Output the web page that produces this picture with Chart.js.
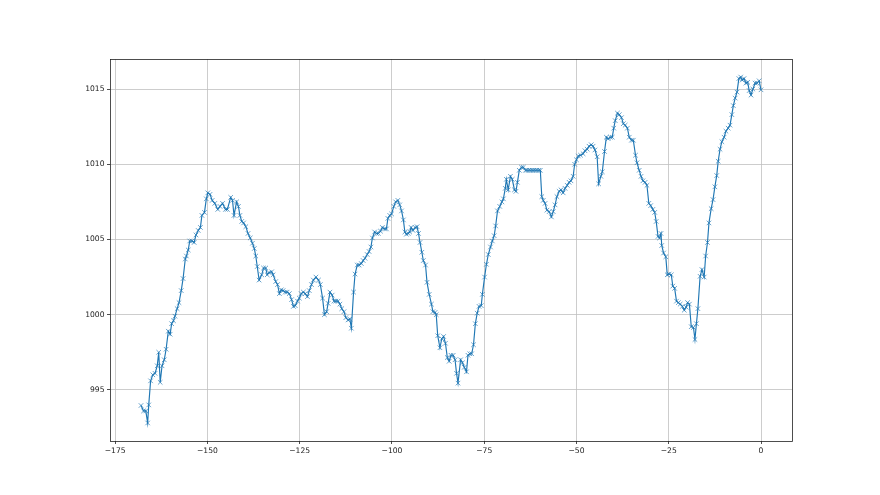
<!DOCTYPE html>
<html>
<head>
<meta charset="utf-8">
<script src="https://cdn.jsdelivr.net/npm/chart.js@4/dist/chart.umd.min.js"></script>
<style>
  html, body { margin: 0; padding: 0; background: #fff; }
  canvas { display: block; }
</style>
</head>
<body>
<canvas id="grafico" width="880" height="495"></canvas>
<script>
const hours = [
  -168, -167.3, -166.7, -166.2, -165.9, -165.4, -164.8, -164.2, -163.6, -163.2,
  -162.8, -162.3, -161.7, -161.2, -160.6, -160.1, -159.7, -159.2, -158.8, -158.2,
  -157.7, -157.1, -156.6, -156.0, -155.7, -155.2, -154.8, -154.2, -153.6, -153.1,
  -152.5, -151.9, -151.5, -150.8, -150.3, -149.9, -149.3, -148.7, -148.0, -147.2,
  -146.6, -145.9, -145.1, -144.6, -143.7, -143.2, -142.8, -142.1, -141.6, -141.2,
  -140.7, -140.2, -139.6, -139.0, -138.4, -137.8, -137.3, -136.9, -136.5, -136.0,
  -135.3, -134.8, -134.2, -133.8, -133.3, -132.6, -132.2, -131.5, -131.0, -130.5,
  -130.0, -129.5, -128.9, -128.4, -127.8, -127.2, -126.7, -126.2, -125.6, -125.1,
  -124.6, -124.0, -123.5, -122.9, -122.4, -121.8, -121.3, -120.6, -119.9, -119.4,
  -118.8, -118.3, -117.7, -117.3, -116.8, -116.2, -115.7, -115.2, -114.6, -114.1,
  -113.6, -113.0, -112.5, -111.9, -111.4, -111.0, -110.4, -110.0, -109.4, -108.9,
  -108.3, -107.8, -107.3, -106.7, -106.2, -105.7, -105.3, -104.7, -104.2, -103.7,
  -103.1, -102.6, -102.0, -101.5, -101.1, -100.6, -100.1, -99.5, -99.0, -98.4,
  -97.9, -97.4, -96.9, -96.5, -96.1, -95.6, -95.2, -94.8, -94.3, -93.7,
  -93.2, -92.8, -92.4, -91.9, -91.5, -90.9, -90.5, -89.9, -89.3, -88.9,
  -88.3, -88.0, -87.6, -87.0, -86.5, -86.0, -85.5, -85.0, -84.5, -84.0,
  -83.4, -82.9, -82.5, -82.1, -81.4, -80.9, -80.4, -79.8, -79.4, -78.9,
  -78.4, -77.9, -77.4, -76.9, -76.4, -75.8, -75.5, -74.9, -74.4, -73.9,
  -73.3, -72.8, -72.3, -71.9, -71.4, -70.8, -70.2, -69.8, -69.3, -69.0,
  -68.5, -67.9, -67.4, -66.8, -66.4, -66.0, -65.5, -64.9, -64.4, -63.8,
  -63.4, -62.9, -62.5, -62.0, -61.6, -61.1, -60.7, -60.2, -59.8, -59.4,
  -59.0, -58.5, -58.0, -57.4, -56.8, -56.3, -55.8, -55.3, -54.7, -54.2,
  -53.6, -53.1, -52.5, -52.0, -51.5, -50.9, -50.5, -50.0, -49.5, -48.9,
  -48.2, -47.7, -47.1, -46.6, -46.0, -45.5, -45.0, -44.4, -44.0, -43.4,
  -43.0, -42.4, -41.9, -41.4, -40.8, -40.3, -39.9, -39.5, -38.9, -38.4,
  -37.8, -37.3, -36.8, -36.2, -35.7, -35.1, -34.6, -34.0, -33.6, -33.0,
  -32.5, -32.0, -31.4, -30.9, -30.4, -29.9, -29.3, -28.8, -28.4, -27.9,
  -27.5, -27.1, -26.9, -26.4, -25.8, -25.4, -24.9, -24.3, -23.9, -23.4,
  -22.9, -22.4, -21.9, -21.3, -20.8, -20.3, -19.9, -19.4, -18.9, -18.3,
  -17.9, -17.5, -17.1, -16.5, -16.0, -15.4, -15.0, -14.5, -14.1, -13.5,
  -13.0, -12.5, -12.0, -11.6, -11.1, -10.6, -10.0, -9.5, -8.9, -8.4,
  -7.9, -7.5, -7.0, -6.5, -6.0, -5.5, -5.1, -4.6, -4.1, -3.6,
  -3.2, -2.7, -2.2, -1.6, -1.1, -0.5, 0
];

const pressure = [
  993.96, 993.6, 993.6, 992.8, 994.0, 995.6, 996.0, 996.1, 996.6, 997.5,
  995.5, 996.6, 997.0, 997.7, 998.9, 998.7, 999.4, 999.6, 999.9, 1000.4,
  1000.8, 1001.6, 1002.4, 1003.7, 1003.9, 1004.3, 1004.9, 1004.9, 1004.8, 1005.3,
  1005.6, 1005.8, 1006.6, 1006.8, 1007.7, 1008.1, 1008.0, 1007.6, 1007.4, 1007.0,
  1007.2, 1007.4, 1007.0, 1007.0, 1007.8, 1007.6, 1006.6, 1007.5, 1007.2, 1006.6,
  1006.2, 1006.1, 1005.85, 1005.4, 1005.1, 1004.75, 1004.4, 1003.9, 1003.2, 1002.3,
  1002.65, 1003.1, 1003.1, 1002.65, 1002.8, 1002.85, 1002.65, 1002.2, 1002.0, 1001.4,
  1001.65, 1001.6, 1001.5, 1001.5, 1001.4, 1001.0, 1000.55, 1000.6, 1000.9, 1001.1,
  1001.4, 1001.5, 1001.4, 1001.2, 1001.6, 1002.0, 1002.3, 1002.5, 1002.3, 1002.0,
  1001.1, 1000.0, 1000.2, 1000.75, 1001.5, 1001.3, 1000.9, 1000.9, 1000.9, 1000.7,
  1000.4, 1000.2, 999.8, 999.65, 999.7, 999.1, 1001.5, 1002.7, 1003.3, 1003.3,
  1003.4, 1003.6, 1003.75, 1004.0, 1004.2, 1004.5, 1005.1, 1005.5, 1005.4, 1005.4,
  1005.55, 1005.8, 1005.7, 1005.7, 1006.4, 1006.6, 1006.7, 1007.2, 1007.5, 1007.6,
  1007.3, 1006.9, 1006.3, 1005.5, 1005.35, 1005.4, 1005.5, 1005.8, 1005.6, 1005.8,
  1005.85, 1005.4, 1004.8, 1004.15, 1003.6, 1003.3, 1002.15, 1001.35, 1000.7, 1000.2,
  1000.15, 1000.0, 998.6, 997.8, 998.4, 998.55, 998.1, 997.15, 996.9, 997.3,
  997.3, 997.0, 996.1, 995.45, 997.0, 996.8, 996.5, 996.2, 997.3, 997.4,
  997.4, 998.0, 999.4, 1000.1, 1000.55, 1000.6, 1001.35, 1002.5, 1003.35, 1004.0,
  1004.5, 1004.9, 1005.25, 1005.9, 1006.9, 1007.2, 1007.5, 1007.7, 1008.4, 1009.0,
  1008.3, 1009.2, 1009.0, 1008.3, 1008.2, 1008.8, 1009.6, 1009.8, 1009.8, 1009.6,
  1009.6, 1009.6, 1009.6, 1009.6, 1009.6, 1009.6, 1009.6, 1009.6, 1009.6, 1007.85,
  1007.6, 1007.4, 1006.95, 1006.85, 1006.5, 1006.85, 1007.3, 1007.85, 1008.2, 1008.3,
  1008.1, 1008.4, 1008.6, 1008.8, 1008.9, 1009.2, 1010.0, 1010.3, 1010.55, 1010.6,
  1010.7, 1010.9, 1011.0, 1011.2, 1011.3, 1011.2, 1010.95, 1010.5, 1008.7, 1009.2,
  1009.5, 1010.85, 1011.8, 1011.7, 1011.8, 1011.8, 1012.4, 1012.9, 1013.4, 1013.3,
  1013.1, 1012.7, 1012.6, 1012.4, 1011.8, 1011.6, 1011.6, 1010.6, 1010.1, 1009.6,
  1009.2, 1008.9, 1008.8, 1008.6, 1007.4, 1007.25, 1007.0, 1006.8, 1006.2, 1005.2,
  1005.1, 1005.4, 1004.6, 1004.1, 1003.85, 1002.65, 1002.7, 1002.65, 1001.9, 1001.75,
  1000.9, 1000.8, 1000.7, 1000.55, 1000.3, 1000.5, 1000.8, 1000.7, 999.2, 999.15,
  998.35, 999.4, 1000.4, 1002.55, 1003.0, 1002.5, 1003.9, 1004.8, 1006.1, 1007.05,
  1007.65, 1008.5, 1009.25, 1010.2, 1011.0, 1011.5, 1011.8, 1012.2, 1012.4, 1012.6,
  1013.3, 1013.9, 1014.4, 1014.8, 1015.7, 1015.8, 1015.6, 1015.7, 1015.4, 1015.45,
  1014.9, 1014.6, 1015.0, 1015.4, 1015.4, 1015.55, 1014.95
];

const xTicks = [-175, -150, -125, -100, -75, -50, -25, 0];
const yTicks = [995, 1000, 1005, 1010, 1015];

const puntos = hours.map((h, i) => ({ x: h, y: pressure[i] }));

// marco de los cuatro lados, como los ejes de matplotlib
const marco = {
  id: 'marco',
  afterDraw(chart) {
    const a = chart.chartArea;
    const c = chart.ctx;
    c.save();
    c.strokeStyle = '#222';
    c.lineWidth = 0.8;
    c.strokeRect(Math.round(a.left) + 0.5, Math.round(a.top) + 0.5,
      Math.round(a.right - a.left), Math.round(a.bottom - a.top));
    c.restore();
  }
};

const fuente = { family: 'DejaVu Sans', size: 7.6 };
const menos = v => String(v).replace('-', '\u2212');

new Chart(document.getElementById('grafico'), {
  type: 'scatter',
  data: {
    datasets: [{
      data: puntos,
      showLine: true,
      borderColor: '#1f77b4',
      borderWidth: 1.15,
      pointStyle: 'crossRot',
      pointRadius: 3.2,
      pointBorderWidth: 0.8,
      pointBorderColor: 'rgba(31,119,180,0.85)',
      pointBackgroundColor: '#1f77b4'
    }]
  },
  options: {
    responsive: false,
    animation: false,
    layout: { padding: { left: 0, top: 59, right: 88, bottom: 0 } },
    plugins: { legend: { display: false }, tooltip: { enabled: false } },
    scales: {
      x: {
        type: 'linear',
        min: -176.4,
        max: 8.4,
        afterBuildTicks: s => { s.ticks = xTicks.map(v => ({ value: v })); },
        afterFit: s => { s.height = 54; },
        border: { display: false },
        grid: { color: '#c0c0c0', lineWidth: 0.8, tickLength: 3, tickColor: '#222' },
        ticks: { color: '#222', font: fuente, padding: 2.5, maxRotation: 0, callback: menos }
      },
      y: {
        min: 991.6,
        max: 1017.0,
        afterBuildTicks: s => { s.ticks = yTicks.map(v => ({ value: v })); },
        afterFit: s => { s.width = 110; },
        border: { display: false },
        grid: { color: '#c0c0c0', lineWidth: 0.8, tickLength: 3, tickColor: '#222' },
        ticks: { color: '#222', font: fuente, padding: 2.5, callback: v => String(v) }
      }
    }
  },
  plugins: [marco]
});
</script>
</body>
</html>
